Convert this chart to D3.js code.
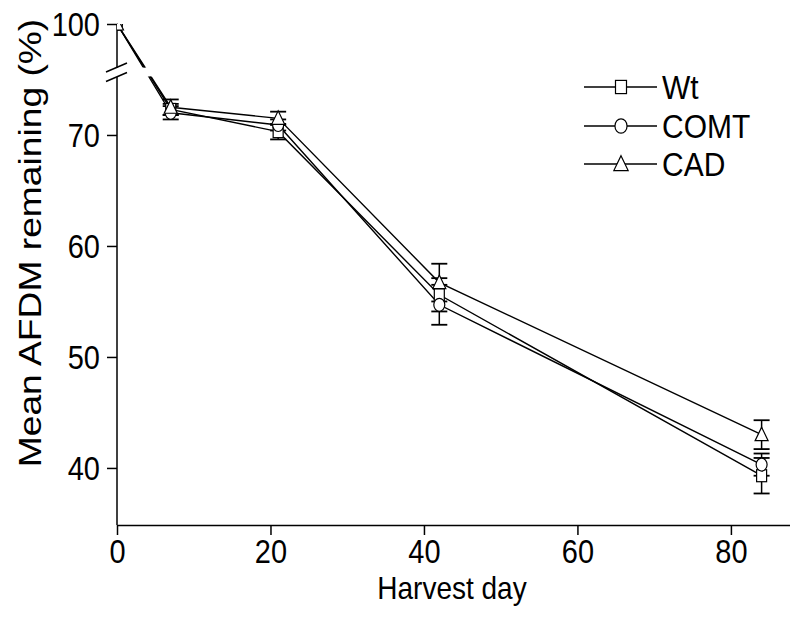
<!DOCTYPE html>
<html>
<head>
<meta charset="utf-8">
<script src="https://cdn.jsdelivr.net/npm/d3@7"></script>
<style>
  body { margin: 0; background: white; }
  text { font-family: "Liberation Sans", Arial, sans-serif; }
</style>
</head>
<body>
<script>
const width = 790;
const height = 628;

// data
const days = [0, 7, 21, 42, 84];
const seriesNames = ['Wt', 'COMT', 'CAD'];
const wtMean = [100, 72.3, 70.3, 55.6, 39.3];
const wtErr = [0, 0.5, 0.7, 1.5, 1.6];
const comtMean = [100, 72.0, 70.9, 54.7, 40.3];
const comtErr = [0, 0.6, 0.5, 1.8, 1.0];
const cadMean = [100, 72.5, 71.5, 56.7, 43.0];
const cadErr = [0, 0.7, 0.6, 1.7, 1.3];
const xTicks = [0, 20, 40, 60, 80];
const yTicks = [40, 50, 60, 70, 100];

const series = [
  { name: seriesNames[0], mean: wtMean, err: wtErr, shape: 'square' },
  { name: seriesNames[1], mean: comtMean, err: comtErr, shape: 'circle' },
  { name: seriesNames[2], mean: cadMean, err: cadErr, shape: 'triangle' }
];

const x0 = 117;
const yAxisBottom = 525;
const fontSize = 29;
const stretch = 1.12; // text in the figure is drawn a bit taller than wide

const svg = d3.select('body')
  .append('svg')
  .attr('width', width)
  .attr('height', height);

// X SCALE
const xScale = d3.scaleLinear()
  .domain([0, 87.7])
  .range([x0, width]);

// Y SCALE with a break between 76 and 100
const yScale = d3.scaleLinear()
  .domain([34.86, 75.8, 100])
  .range([yAxisBottom, 70.6, 24]);

// clip paths: gap in the data lines at the break, plot area for markers
const defs = svg.append('defs');
const gapClip = defs.append('clipPath').attr('id', 'gap');
gapClip.append('rect').attr('x', 0).attr('y', 0).attr('width', width).attr('height', 67.5);
gapClip.append('rect').attr('x', 0).attr('y', 76.5).attr('width', width).attr('height', height);

defs.append('clipPath').attr('id', 'plot')
  .append('rect')
  .attr('x', x0).attr('y', 24)
  .attr('width', width - x0).attr('height', yAxisBottom - 24);

// X-AXIS
const xAxis = d3.axisBottom(xScale)
  .tickValues(xTicks)
  .tickSize(10)
  .tickSizeOuter(0);

const gx = svg.append('g')
  .attr('transform', `translate(0, ${yAxisBottom})`)
  .call(xAxis);

// Y-AXIS
const yAxis = d3.axisLeft(yScale)
  .tickValues(yTicks)
  .tickSize(10)
  .tickSizeOuter(0);

const gy = svg.append('g')
  .attr('transform', `translate(${x0}, 0)`)
  .call(yAxis);
gy.select('.domain').remove();

const capH = 0.716 * fontSize * stretch;

gx.selectAll('text')
  .attr('x', 0).attr('y', 0).attr('dy', null)
  .attr('transform', `translate(0, ${26 + capH / 2}) scale(1, ${stretch})`);
gy.selectAll('text')
  .attr('x', 0).attr('y', 0).attr('dy', null)
  .attr('transform', `translate(-17, ${capH / 2}) scale(1, ${stretch})`);

[gx, gy].forEach(g => {
  g.selectAll('text')
    .attr('fill', '#000')
    .style('font-size', `${fontSize}px`);
  g.selectAll('line').attr('stroke', '#000').attr('stroke-width', 1.5);
  g.select('.domain').attr('stroke', '#000').attr('stroke-width', 1.5);
});

// broken y axis line
svg.append('line')
  .attr('x1', x0).attr('x2', x0)
  .attr('y1', 24).attr('y2', 68)
  .attr('stroke', '#000').attr('stroke-width', 1.5);
svg.append('line')
  .attr('x1', x0).attr('x2', x0)
  .attr('y1', 77).attr('y2', yAxisBottom)
  .attr('stroke', '#000').attr('stroke-width', 1.5);

[0, 9.5].forEach(off => {
  svg.append('line')
    .attr('x1', 106).attr('y1', 72 + off)
    .attr('x2', 127).attr('y2', 63 + off)
    .attr('stroke', '#000').attr('stroke-width', 1.5);
});

// LINES
const line = d3.line()
  .x((d, i) => xScale(days[i]))
  .y(d => yScale(d));

svg.append('g')
  .attr('clip-path', 'url(#gap)')
  .selectAll('path')
  .data(series)
  .enter()
  .append('path')
  .attr('d', d => line(d.mean))
  .attr('fill', 'none')
  .attr('stroke', '#000')
  .attr('stroke-width', 1.4);

// ERROR BARS
const errG = svg.append('g');
series.forEach(s => {
  s.mean.forEach((m, i) => {
    if (s.err[i] === 0) return;
    const cx = xScale(days[i]);
    const top = yScale(m + s.err[i]);
    const bot = yScale(m - s.err[i]);
    errG.append('line')
      .attr('x1', cx).attr('x2', cx)
      .attr('y1', top).attr('y2', bot)
      .attr('stroke', '#000').attr('stroke-width', 1.5);
    [top, bot].forEach(yy => {
      errG.append('line')
        .attr('x1', cx - 8).attr('x2', cx + 8)
        .attr('y1', yy).attr('y2', yy)
        .attr('stroke', '#000').attr('stroke-width', 1.8);
    });
  });
});

// MARKERS
function marker(g, shape, cx, cy, scale) {
  const k = scale || 1;
  let m;
  if (shape === 'square') {
    m = g.append('rect')
      .attr('x', cx - 5 * k).attr('y', cy - 6 * k)
      .attr('width', 10 * k).attr('height', 12 * k);
  } else if (shape === 'circle') {
    m = g.append('ellipse')
      .attr('cx', cx).attr('cy', cy).attr('rx', 5.5 * k).attr('ry', 6.5 * k);
  } else {
    const h = 7.5 * k;
    m = g.append('path')
      .attr('d', `M${cx},${cy - h}L${cx + 6.5 * k},${cy + h * 0.8}L${cx - 6.5 * k},${cy + h * 0.8}Z`);
  }
  m.attr('fill', 'white').attr('stroke', '#000').attr('stroke-width', 1.2);
}

const markG = svg.append('g').attr('clip-path', 'url(#plot)');
series.forEach(s => {
  s.mean.forEach((m, i) => {
    marker(markG, s.shape, xScale(days[i]), yScale(m));
  });
});

// LEGEND
const legendY = [87, 126, 164];
series.forEach((s, i) => {
  const g = svg.append('g');
  g.append('line')
    .attr('x1', 584).attr('x2', 657)
    .attr('y1', legendY[i]).attr('y2', legendY[i])
    .attr('stroke', '#000').attr('stroke-width', 1.4);
  marker(g, s.shape, 621, legendY[i], 1.1);
  g.append('text')
    .attr('transform', `translate(662, ${legendY[i] + capH / 2}) scale(1, ${stretch})`)
    .style('font-size', '30px')
    .text(s.name);
});

// AXIS TITLES
svg.append('text')
  .attr('transform', `translate(452, 599) scale(1, ${stretch})`)
  .attr('text-anchor', 'middle')
  .style('font-size', '28px')
  .text('Harvest day');

svg.append('text')
  .attr('transform', 'translate(41, 243) scale(1, 1.2) rotate(-90)')
  .attr('text-anchor', 'middle')
  .style('font-size', '31px')
  .text('Mean AFDM remaining (%)');
</script>
</body>
</html>
